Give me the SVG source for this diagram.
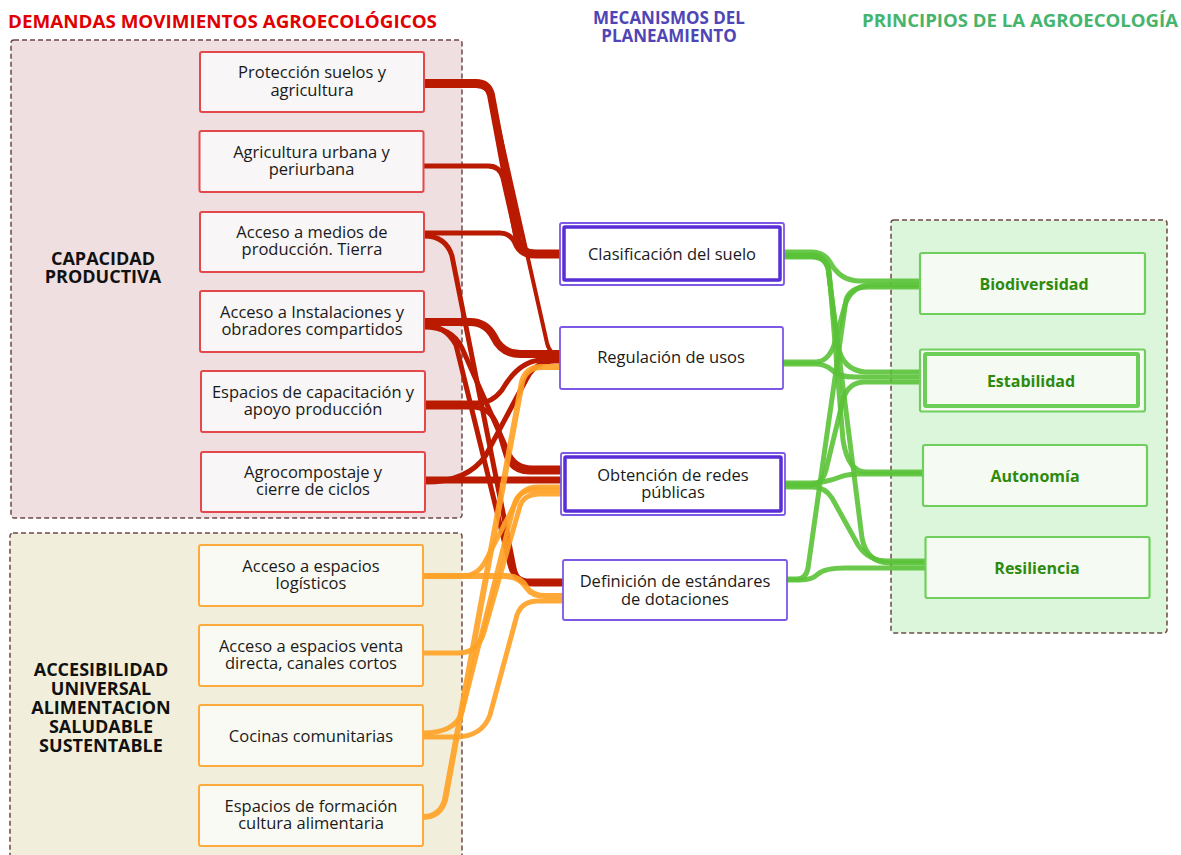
<svg xmlns="http://www.w3.org/2000/svg" width="1181" height="855" viewBox="0 0 1181 855">
<defs><style>
.title{font-family:"Open Sans","DejaVu Sans",sans-serif;font-weight:700;}
.grp{stroke:#6e4848;stroke-width:1.5;stroke-dasharray:5 3;}
.nt{font-family:"Open Sans","DejaVu Sans",sans-serif;font-size:16.5px;fill:#1a1a1a;text-anchor:middle;}
.gl{font-family:"Open Sans","DejaVu Sans",sans-serif;font-weight:700;font-size:18px;fill:#111;text-anchor:middle;}
.rn{fill:#f8f6f6;stroke:#e4484a;stroke-width:2;}
.on{fill:#fafaf4;stroke:#ffaa3c;stroke-width:2;}
.pn{fill:#fff;stroke:#7c58e4;stroke-width:1.8;}
.pi{fill:none;stroke:#5a2ed6;stroke-width:3.5;}
.gn{fill:#f5fbf3;stroke:#70cf5c;stroke-width:2.2;}
.gi{fill:none;stroke:#6ccd58;stroke-width:4;}
.gt{font-family:"Open Sans","DejaVu Sans",sans-serif;font-weight:700;font-size:16px;fill:#2e8a0c;text-anchor:middle;}
.r{fill:none;stroke:#b91a00;}
.o{fill:none;stroke:#ffa227;stroke-opacity:.92;}
.g{fill:none;stroke:#5ac237;stroke-opacity:.9;stroke-width:5;}
</style></defs>

<g id="titles">
<text class="title" x="8" y="28" font-size="18" fill="#e00000" textLength="429" lengthAdjust="spacingAndGlyphs">DEMANDAS MOVIMIENTOS AGROECOLÓGICOS</text>
<text class="title" x="669" y="24" font-size="17" fill="#4f45b5" text-anchor="middle">MECANISMOS DEL<tspan x="669" dy="18">PLANEAMIENTO</tspan></text>
<text class="title" x="862" y="27" font-size="18" fill="#45b46d" textLength="316" lengthAdjust="spacingAndGlyphs">PRINCIPIOS DE LA AGROECOLOGÍA</text>
</g>

<g id="group-capacidad">
<rect class="grp" x="11" y="40" width="451" height="478" rx="3" fill="#efdfe0"/>
<text class="gl" x="103" y="265">CAPACIDAD<tspan x="103" dy="18">PRODUCTIVA</tspan></text>
</g>
<g id="group-accesibilidad">
<rect class="grp" x="10" y="533" width="452" height="330" rx="3" fill="#f1efdb"/>
<text class="gl" x="101" y="676">ACCESIBILIDAD<tspan x="101" dy="19">UNIVERSAL</tspan><tspan x="101" dy="19">ALIMENTACION</tspan><tspan x="101" dy="19">SALUDABLE</tspan><tspan x="101" dy="19">SUSTENTABLE</tspan></text>
</g>
<g id="group-principios">
<rect class="grp" x="891" y="220" width="276" height="413" rx="3" fill="#dcf6dc"/>
</g>

<g id="connectors">
<path class="r" stroke-width="8" d="M424,83 H476 Q488,83 491,95 L518,240 Q521,254 536,254 H560"/>
<path class="r" stroke-width="4" d="M424,86 H476 Q488,86 492,98 L547,343 Q550,355 559,355 H560"/>
<path class="r" stroke-width="5" d="M423,166 H488 Q500,166 503,178 L517,240 Q520,252 533,252 H560"/>
<path class="r" stroke-width="5" d="M424,233 H500 Q510,233 515,243 Q520,256 535,256 H560"/>
<path class="r" stroke-width="5" d="M424,236 Q446,236 452,256 L514,568 Q517,584 533,584 H563"/>
<path class="r" stroke-width="8" d="M424,322 H470 Q486,322 494,337 Q502,354 520,354 H560"/>
<path class="r" stroke-width="5" d="M424,327 Q452,327 462,348 L508,452 Q515,468 532,468 H561"/>
<path class="r" stroke-width="5" d="M424,325 Q445,325 456,345 L510,565 Q514,581 530,581 H563"/>
<path class="r" stroke-width="5" d="M425,403 H478 Q492,403 502,390 Q518,362 540,360 H560"/>
<path class="r" stroke-width="5" d="M425,407 H472 Q490,407 497,425 L505,452 Q510,472 530,472 H561"/>
<path class="r" stroke-width="7" d="M425,480 H561"/>
<path class="r" stroke-width="5" d="M425,482 Q468,482 486,455 L527,378 Q536,361 555,361 H560"/>
<path class="o" stroke-width="6" d="M423,817 Q440,817 445,800 L522,382 Q526,367 542,367 H560"/>
<path class="o" stroke-width="5" d="M423,733 Q455,733 462,712 L514,505 Q518,490 535,490 H561"/>
<path class="o" stroke-width="5" d="M423,653 H458 Q478,653 484,632 L520,506 Q524,494 540,494 H561"/>
<path class="o" stroke-width="5" d="M423,576 H462 Q478,576 486,560 L516,502 Q522,487 538,487 H561"/>
<path class="o" stroke-width="6" d="M423,576 H505 Q520,576 527,588 Q532,596 546,596 H563"/>
<path class="o" stroke-width="5" d="M423,737 H455 Q482,737 490,715 L517,615 Q522,601 538,601 H563"/>
<path class="g" d="M784,252 H812 Q824,252 830,262 Q840,281 860,281 H921"/>
<path class="g" d="M784,255 H812 Q824,255 828,268 L838,345 Q842,370 865,372 H921"/>
<path class="g" d="M784,257 H812 Q826,257 829,270 L843,440 Q848,472 866,472 H924"/>
<path class="g" d="M784,256 H810 Q824,256 828,268 L862,538 Q867,563 890,563 H926"/>
<path class="g" d="M783,362 H815 Q828,362 834,345 L845,305 Q852,285 872,285 H921"/>
<path class="g" d="M783,364 H815 Q825,364 832,370 Q838,377 855,377 H921"/>
<path class="g" d="M785,483 H810 Q825,483 840,477 Q848,474 860,474 H924"/>
<path class="g" d="M785,487 H812 Q825,487 832,498 L858,545 Q868,561 888,561 H926"/>
<path class="g" d="M785,485 H810 Q822,485 826,470 L843,400 Q848,382 865,382 H921"/>
<path class="g" d="M787,579 H797 Q806,579 808,568 L846,300 Q850,287 868,287 H921"/>
<path class="g" d="M787,580 H800 Q812,580 818,574 Q825,568 845,568 H926"/>
</g>

<g id="n-proteccion"><rect class="rn" x="200" y="52" width="224" height="60" rx="2"/><text class="nt" x="312" y="78">Protección suelos y<tspan x="312" dy="17.5">agricultura</tspan></text></g>
<g id="n-agricultura"><rect class="rn" x="199.5" y="131" width="224" height="61" rx="2"/><text class="nt" x="311.5" y="157.5">Agricultura urbana y<tspan x="311.5" dy="17.5">periurbana</tspan></text></g>
<g id="n-medios"><rect class="rn" x="200" y="212" width="224" height="60" rx="2"/><text class="nt" x="312" y="237.5">Acceso a medios de<tspan x="312" dy="17.5">producción. Tierra</tspan></text></g>
<g id="n-instalaciones"><rect class="rn" x="200" y="291" width="224" height="61" rx="2"/><text class="nt" x="312" y="317.5">Acceso a Instalaciones y<tspan x="312" dy="17.5">obradores compartidos</tspan></text></g>
<g id="n-capacitacion"><rect class="rn" x="201" y="371" width="224" height="61" rx="2"/><text class="nt" x="313" y="397.5">Espacios de capacitación y<tspan x="313" dy="17.5">apoyo producción</tspan></text></g>
<g id="n-agrocompostaje"><rect class="rn" x="201" y="452" width="224" height="60" rx="2"/><text class="nt" x="313" y="477.5">Agrocompostaje y<tspan x="313" dy="17.5">cierre de ciclos</tspan></text></g>

<g id="n-logisticos"><rect class="on" x="199" y="545" width="224" height="61" rx="2"/><text class="nt" x="311" y="571.5">Acceso a espacios<tspan x="311" dy="17.5">logísticos</tspan></text></g>
<g id="n-venta"><rect class="on" x="199" y="625" width="224" height="61" rx="2"/><text class="nt" x="311" y="651.5">Acceso a espacios venta<tspan x="311" dy="17.5">directa, canales cortos</tspan></text></g>
<g id="n-cocinas"><rect class="on" x="199" y="705" width="224" height="61" rx="2"/><text class="nt" x="311" y="741.5">Cocinas comunitarias</text></g>
<g id="n-formacion"><rect class="on" x="199" y="785" width="224" height="61" rx="2"/><text class="nt" x="311" y="811.5">Espacios de formación<tspan x="311" dy="17.5">cultura alimentaria</tspan></text></g>

<g id="n-clasificacion"><rect class="pn" x="560" y="223" width="224" height="62" rx="2"/><rect class="pi" x="564" y="227" width="216" height="53" rx="1"/><text class="nt" x="672" y="260">Clasificación del suelo</text></g>
<g id="n-regulacion"><rect class="pn" x="560" y="327" width="223" height="62" rx="2"/><text class="nt" x="671" y="363">Regulación de usos</text></g>
<g id="n-obtencion"><rect class="pn" x="561" y="453" width="224" height="62" rx="2"/><rect class="pi" x="565" y="457" width="216" height="54" rx="1"/><text class="nt" x="673" y="480.5">Obtención de redes<tspan x="673" dy="17.5">públicas</tspan></text></g>
<g id="n-definicion"><rect class="pn" x="563" y="560" width="224" height="60" rx="2"/><text class="nt" x="675" y="587">Definición de estándares<tspan x="675" dy="17.5">de dotaciones</tspan></text></g>

<g id="n-biodiversidad"><rect class="gn" x="920" y="253" width="225" height="61" rx="2"/><text class="gt" x="1034" y="290">Biodiversidad</text></g>
<g id="n-estabilidad"><rect class="gn" x="920" y="349.5" width="225" height="62" rx="2"/><rect class="gi" x="925" y="354" width="213" height="52" rx="1"/><text class="gt" x="1031" y="387">Estabilidad</text></g>
<g id="n-autonomia"><rect class="gn" x="923" y="445" width="224" height="61" rx="2"/><text class="gt" x="1035" y="482">Autonomía</text></g>
<g id="n-resiliencia"><rect class="gn" x="925.5" y="537" width="224" height="61" rx="2"/><text class="gt" x="1037" y="574">Resiliencia</text></g>
</svg>
